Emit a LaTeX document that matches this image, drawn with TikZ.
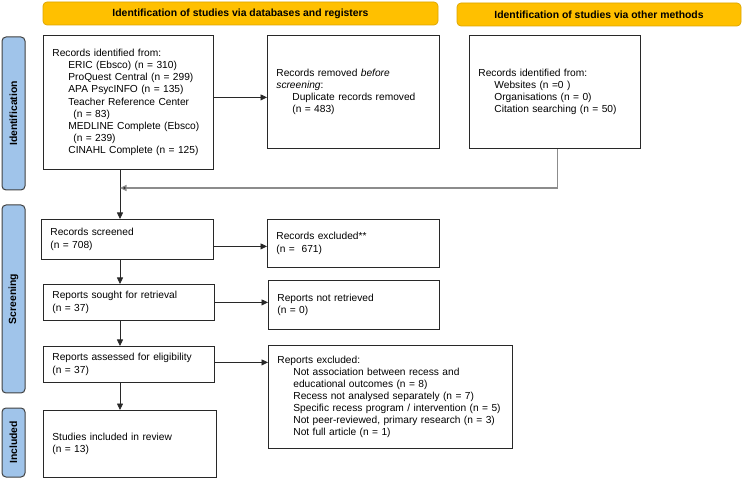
\documentclass[tikz,border=0pt]{standalone}
\usepackage{fontspec}
\setmainfont{Liberation Sans}
\usetikzlibrary{arrows.meta,calc}
\definecolor{ylw}{RGB}{255,192,0}
\definecolor{ylwborder}{RGB}{220,165,0}
\definecolor{lblue}{RGB}{160,196,234}
\definecolor{lineclr}{RGB}{40,40,40}
\definecolor{retclr}{RGB}{140,140,140}
\newcommand{\bodyfont}{\fontsize{10.2}{12.1}\selectfont}
\newcommand{\headfont}{\fontsize{10.4}{12}\selectfont\bfseries}
\newcommand{\ind}{\hspace*{16pt}}
\tikzset{
  box/.style={draw=lineclr, line width=0.8pt, fill=white, inner xsep=9pt, inner ysep=0pt,
    align=left, anchor=north west, font=\bodyfont},
  banner/.style={draw=ylwborder, line width=0.7pt, fill=ylw, rounded corners=4pt,
    inner sep=0pt, font=\headfont},
  side/.style={draw=black!75, line width=1pt, fill=lblue, rounded corners=4pt,
    inner sep=0pt, rotate=90, font=\headfont},
  arr/.style={draw=lineclr, line width=0.8pt, -{Triangle[length=6.5pt,width=6pt]}},
  retarr/.style={draw=retclr, line width=1.1pt, -{Triangle[length=6.5pt,width=6pt,fill=lineclr]}}
}
\begin{document}
\begin{tikzpicture}[x=1pt,y=-1pt]
\useasboundingbox (0,0) rectangle (742,478);

% banners
\node[banner, minimum width=395pt, minimum height=23pt] (ban1) at (240.5,13.5)
  {Identification of studies via databases and registers};
\node[banner, minimum width=284pt, minimum height=23pt] (ban2) at (599,14.5)
  {Identification of studies via other methods};

% side labels
\node[side, minimum width=153pt, minimum height=23pt] (L1) at (13.5,113.5) {Identification};
\node[side, minimum width=188pt, minimum height=23pt] (L2) at (13.5,299) {Screening};
\node[side, minimum width=69pt, minimum height=23pt] (L3) at (13.5,442.5) {Included};

% boxes
\node[box, text width=152pt, minimum height=134pt] (A) at (43,35)
  {Records identified from:\\
   \ind ERIC (Ebsco) (n = 310)\\
   \ind ProQuest Central (n = 299)\\
   \ind APA PsycINFO (n = 135)\\
   \ind Teacher Reference Center\\
   \hspace*{21pt}(n = 83)\\
   \ind MEDLINE Complete (Ebsco)\\
   \hspace*{21pt}(n = 239)\\
   \ind CINAHL Complete (n = 125)};
\node[box, text width=154pt, minimum height=113pt] (B) at (267,35)
  {Records removed \textit{before}\\
   \textit{screening}:\\
   \ind Duplicate records removed\\
   \ind (n = 483)};
\node[box, text width=153pt, minimum height=113pt] (C) at (469,35)
  {Records identified from:\\
   \ind Websites (n =0 )\\
   \ind Organisations (n = 0)\\
   \ind Citation searching (n = 50)\\[8pt]};
\node[box, text width=154pt, minimum height=40pt] (D) at (41,219)
  {Records screened\\(n = 708)};
\node[box, text width=154pt, minimum height=48pt] (E) at (267,219)
  {Records excluded**\\(n =~ 671)};
\node[box, text width=153pt, minimum height=36pt] (F) at (43,284)
  {Reports sought for retrieval\\(n = 37)};
\node[box, text width=153pt, minimum height=49pt] (G) at (268,280)
  {Reports not retrieved\\(n = 0)};
\node[box, text width=153pt, minimum height=36pt] (H) at (43,346)
  {Reports assessed for eligibility\\(n = 37)};
\node[box, text width=226pt, minimum height=103pt] (I) at (268,345)
  {Reports excluded:\\
   \ind Not association between recess and\\
   \ind educational outcomes (n = 8)\\
   \ind Recess not analysed separately (n = 7)\\
   \ind Specific recess program / intervention (n = 5)\\
   \ind Not peer-reviewed, primary research (n = 3)\\
   \ind Not full article (n = 1)};
\node[box, text width=155pt, minimum height=67pt] (J) at (43,410)
  {Studies included in review\\(n = 13)};

% vertical main line
\coordinate (vx) at (120,0);
\coordinate (jn) at (120,188);
\draw[arr] (A.south -| vx) -- (D.north -| vx);
\draw[arr] (D.south -| vx) -- (F.north -| vx);
\draw[arr] (F.south -| vx) -- (H.north -| vx);
\draw[arr] (H.south -| vx) -- (J.north -| vx);

% horizontal arrows
\coordinate (a1) at ([yshift=5pt]A.east);
\draw[arr] (a1) -- (a1 -| B.west);
\coordinate (d1) at ([yshift=-7pt]D.east);
\draw[arr] (d1) -- (d1 -| E.west);
\coordinate (f1) at (F.east);
\draw[arr] (f1) -- (f1 -| G.west);
\coordinate (h1) at ([yshift=2pt]H.east);
\draw[arr] (h1) -- (h1 -| I.west);

% return line from other methods
\coordinate (c1) at ([xshift=2.5pt]C.south);
\draw[retarr] (c1) -- (c1 |- jn) -- (jn);
\end{tikzpicture}
\end{document}
